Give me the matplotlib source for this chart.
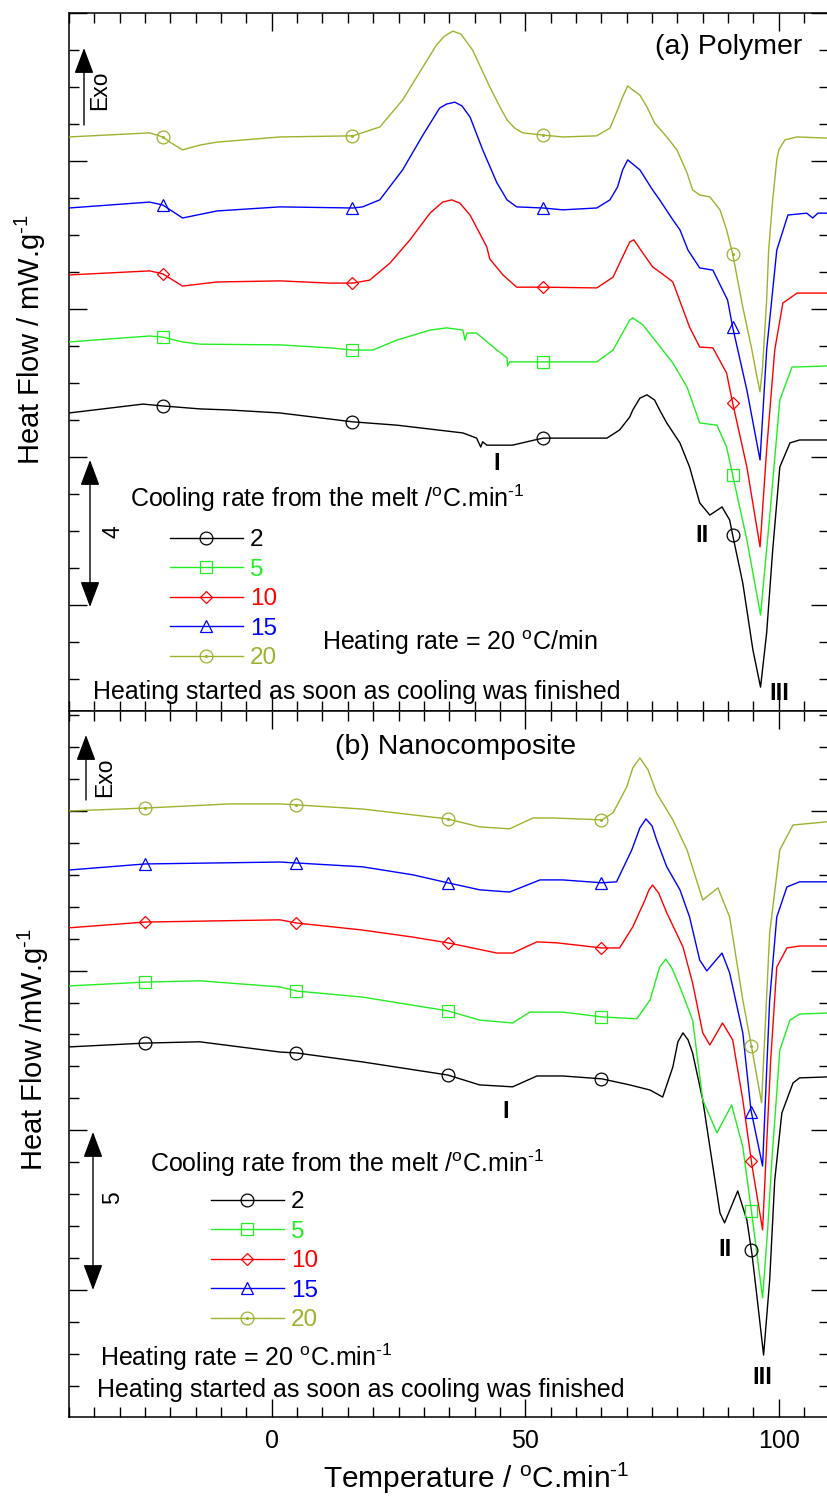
import numpy as np
import matplotlib
matplotlib.use('Agg')
import matplotlib.pyplot as plt
from matplotlib.ticker import MultipleLocator
from matplotlib.legend_handler import HandlerTuple

plt.rcParams['font.family'] = ['Liberation Sans', 'DejaVu Sans']
plt.rcParams['mathtext.fontset'] = 'custom'
plt.rcParams['mathtext.rm'] = 'Liberation Sans'
plt.rcParams['mathtext.it'] = 'Liberation Sans:italic'
plt.rcParams['mathtext.bf'] = 'Liberation Sans:bold'

# ---------------- data ----------------
rates = ['2', '5', '10', '15', '20']
colors = ['#000000', '#22ee22', '#ff0000', '#0000ff', '#9ab42e']
markers = ['o', 's', 'D', '^', 'o']
msizes = [9.2, 9.0, 6.3, 9.2, 9.2]

# (a) Polymer
T_a_2 = [-40.0, -25.4, -21.5, -14.2, -8.3, 1.6, 16.0, 24.7, 37.7, 40.4, 41.2, 41.6, 42.4, 47.5, 50.9, 53.5,
         57.4, 66.1, 68.6, 70.6, 71.2, 72.6, 74.0, 75.5, 76.5, 77.9, 80.5, 82.4, 84.4, 86.4, 88.8, 90.3, 90.9,
         92.9, 94.9, 96.4, 97.6, 98.8, 100.2, 102.2, 104.1, 109.5]
HF_a_2 = [9.19, 9.43, 9.38, 9.30, 9.27, 9.19, 8.95, 8.86, 8.65, 8.51, 8.27, 8.41, 8.32, 8.32, 8.43, 8.51,
          8.51, 8.51, 8.73, 9.08, 9.27, 9.59, 9.68, 9.54, 9.27, 8.92, 8.38, 7.73, 6.76, 6.43, 6.65, 6.30, 5.89,
          4.59, 2.78, 1.78, 3.24, 5.49, 7.73, 8.38, 8.46, 8.46]
T_a_5 = [-40.0, -24.1, -21.5, -17.6, -14.2, 1.6, 11.4, 16.0, 19.9, 24.7, 31.2, 34.5, 37.7, 38.1, 38.5, 40.4,
         44.4, 46.4, 46.5, 46.9, 53.5, 64.1, 67.3, 70.6, 71.2, 73.2, 75.1, 77.1, 79.1, 81.9, 84.4, 87.8, 89.7,
         90.9, 93.7, 96.4, 98.2, 100.2, 102.6, 109.5]
HF_a_5 = [11.11, 11.27, 11.24, 11.11, 11.05, 11.03, 10.95, 10.89, 10.89, 11.16, 11.43, 11.49, 11.43, 11.16,
          11.35, 11.35, 10.89, 10.68, 10.46, 10.57, 10.57, 10.57, 10.89, 11.70, 11.76, 11.57, 11.24, 10.89,
          10.54, 9.89, 8.92, 8.86, 8.27, 7.51, 5.76, 3.73, 6.38, 9.54, 10.43, 10.46]
T_a_10 = [-40.0, -24.1, -21.5, -17.6, -10.8, 1.6, 11.4, 16.0, 19.3, 23.3, 27.2, 31.2, 33.7, 35.5, 37.1, 39.1,
          42.4, 43.0, 45.6, 48.3, 53.5, 64.1, 67.3, 69.2, 70.6, 71.4, 73.2, 75.1, 77.9, 79.1, 82.4, 84.4, 87.0,
          89.7, 90.9, 93.7, 96.3, 97.6, 99.2, 100.8, 103.6, 109.5]
HF_a_10 = [12.92, 13.03, 12.95, 12.62, 12.73, 12.76, 12.70, 12.70, 12.78, 13.24, 13.86, 14.59, 14.89, 14.95,
           14.86, 14.54, 13.68, 13.35, 12.92, 12.59, 12.59, 12.57, 12.86, 13.41, 13.81, 13.87, 13.51, 13.14,
           12.86, 12.73, 11.51, 10.97, 10.95, 10.27, 9.46, 7.73, 5.57, 8.19, 10.89, 12.16, 12.43, 12.43]
T_a_15 = [-40.0, -24.1, -21.5, -17.6, -10.8, 1.6, 16.0, 17.9, 21.3, 25.8, 29.8, 33.1, 34.5, 36.1, 37.5, 39.1,
          41.6, 44.4, 46.4, 48.3, 53.5, 57.4, 64.1, 66.7, 68.2, 69.2, 70.2, 72.6, 75.1, 76.5, 79.1, 80.5, 82.1,
          84.4, 87.0, 89.9, 90.9, 93.7, 96.3, 97.6, 99.6, 101.8, 105.5, 106.7, 107.7, 109.5]
HF_a_15 = [14.73, 14.89, 14.81, 14.46, 14.65, 14.76, 14.73, 14.76, 14.95, 15.76, 16.70, 17.43, 17.54, 17.59,
           17.49, 17.19, 16.30, 15.41, 14.95, 14.76, 14.73, 14.68, 14.73, 14.95, 15.30, 15.76, 16.03, 15.76,
           15.22, 14.95, 14.41, 14.14, 13.59, 13.11, 13.05, 12.24, 11.51, 9.81, 7.92, 10.89, 13.59, 14.54,
           14.59, 14.46, 14.59, 14.59]
T_a_20 = [-40.0, -24.1, -21.5, -20.1, -17.6, -14.2, -10.8, 1.6, 16.0, 21.3, 25.8, 29.8, 32.5, 34.1, 35.7, 37.3,
          39.6, 43.0, 45.0, 46.4, 47.9, 49.5, 53.5, 57.4, 64.1, 66.7, 68.2, 69.2, 70.2, 71.2, 72.6, 74.0, 75.5,
          77.9, 79.9, 81.9, 83.0, 84.4, 86.4, 88.4, 89.7, 90.9, 92.9, 94.7, 95.7, 96.3, 96.8, 97.6, 98.0, 98.8,
          99.6, 100.0, 101.2, 103.6, 109.5]
HF_a_20 = [16.65, 16.76, 16.65, 16.51, 16.30, 16.43, 16.51, 16.65, 16.68, 16.92, 17.65, 18.54, 19.14, 19.38,
           19.51, 19.43, 19.0, 18.0, 17.46, 17.11, 16.89, 16.76, 16.70, 16.65, 16.68, 16.89, 17.38, 17.73,
           18.03, 17.92, 17.78, 17.46, 17.03, 16.65, 16.30, 15.68, 15.22, 15.08, 15.03, 14.68, 14.14, 13.49,
           12.05, 10.89, 10.16, 9.76, 10.43, 12.24, 13.59, 14.95, 16.03, 16.30, 16.57, 16.65, 16.62]

# (b) Nanocomposite
T_b_2 = [-40.0, -25.0, -14.2, 1.6, 4.9, 17.9, 34.7, 41.0, 47.5, 52.3, 57.4, 65.1, 70.6, 74.6, 77.1, 79.1,
         80.1, 81.1, 82.1, 83.0, 85.0, 86.4, 88.4, 89.3, 91.9, 93.7, 94.7, 95.7, 97.0, 98.2, 99.2, 100.6, 102.8,
         104.1, 109.5]
HF_b_2 = [12.61, 12.73, 12.77, 12.45, 12.42, 12.14, 11.73, 11.42, 11.36, 11.70, 11.70, 11.61, 11.42, 11.26,
          11.04, 11.98, 12.77, 13.05, 12.83, 12.42, 10.95, 9.48, 7.41, 7.10, 8.10, 7.19, 6.13, 4.78, 2.96, 5.31,
          8.44, 10.54, 11.48, 11.64, 11.67]
T_b_5 = [-40.0, -25.0, -14.2, 1.6, 4.9, 17.9, 34.7, 41.0, 47.5, 50.9, 57.4, 65.1, 72.0, 74.6, 76.5, 77.7,
         78.9, 80.5, 83.0, 85.0, 87.8, 90.7, 92.9, 94.7, 96.8, 97.8, 98.6, 100.2, 102.2, 104.1, 109.5]
HF_b_5 = [14.52, 14.64, 14.68, 14.49, 14.36, 14.17, 13.74, 13.45, 13.36, 13.70, 13.70, 13.55, 13.49, 14.08,
          15.11, 15.36, 15.08, 14.49, 13.45, 10.95, 9.92, 10.79, 9.48, 7.35, 4.75, 6.88, 8.98, 12.51, 13.45,
          13.64, 13.67]
T_b_10 = [-40.0, -25.0, 1.6, 4.9, 17.9, 27.8, 34.7, 44.4, 47.5, 52.3, 56.2, 65.1, 68.6, 71.2, 73.6, 74.4,
          75.1, 76.3, 77.9, 81.1, 83.0, 85.0, 86.4, 88.9, 90.9, 92.9, 94.7, 96.8, 98.4, 99.6, 101.6, 104.1, 109.5]
HF_b_10 = [16.34, 16.52, 16.59, 16.49, 16.27, 16.05, 15.87, 15.55, 15.55, 15.90, 15.87, 15.71, 15.71, 16.37,
           17.21, 17.53, 17.68, 17.43, 16.81, 15.74, 14.61, 13.05, 12.67, 13.36, 12.83, 10.95, 8.91, 6.88,
           12.20, 15.11, 15.71, 15.77, 15.77]
T_b_15 = [-40.0, -25.0, 1.6, 4.9, 17.9, 27.8, 34.7, 41.0, 46.9, 52.9, 57.4, 65.1, 68.0, 71.0, 72.6, 73.8,
          75.0, 75.9, 77.9, 80.5, 82.4, 84.4, 85.8, 88.8, 90.3, 92.9, 94.5, 96.8, 98.2, 99.6, 101.6, 104.1, 109.5]
HF_b_15 = [18.15, 18.34, 18.40, 18.37, 18.25, 18.00, 17.75, 17.53, 17.46, 17.84, 17.84, 17.75, 17.78, 18.78,
           19.47, 19.75, 19.53, 19.09, 18.25, 17.53, 16.68, 15.33, 14.99, 15.55, 14.93, 13.05, 10.64, 8.88,
           14.08, 16.68, 17.62, 17.78, 17.78]
T_b_20 = [-40.0, -25.0, -8.3, 1.6, 4.9, 17.9, 34.7, 41.0, 46.9, 51.5, 55.4, 65.1, 67.3, 70.0, 71.2, 72.6,
          74.2, 75.9, 79.1, 81.9, 85.0, 88.0, 90.3, 92.9, 94.7, 96.6, 98.2, 100.2, 102.8, 109.5]
HF_b_20 = [20.0, 20.09, 20.22, 20.22, 20.19, 20.06, 19.75, 19.50, 19.44, 19.78, 19.78, 19.72, 19.94, 20.75,
           21.35, 21.66, 21.29, 20.56, 19.72, 18.78, 17.21, 17.59, 16.68, 14.08, 12.55, 10.86, 16.18, 18.78,
           19.56, 19.66]

marker_T_a = [-21.5, 15.8, 53.5, 90.9]
marker_T_b = [-25.0, 4.8, 34.7, 64.9, 94.6]

series_a = [(T_a_2, HF_a_2), (T_a_5, HF_a_5), (T_a_10, HF_a_10), (T_a_15, HF_a_15), (T_a_20, HF_a_20)]
series_b = [(T_b_2, HF_b_2), (T_b_5, HF_b_5), (T_b_10, HF_b_10), (T_b_15, HF_b_15), (T_b_20, HF_b_20)]

# ---------------- figure ----------------
W, H = 827, 1497
fig = plt.figure(figsize=(W / 100, H / 100), dpi=100)


def fx(px):
    return px / W


def fy(py):
    return 1 - py / H


L, R = 69, 829.5
TOP_A, MID, BOT_B = 13, 711, 1417
ax_a = fig.add_axes([fx(L), fy(MID), (R - L) / W, (MID - TOP_A) / H])
ax_b = fig.add_axes([fx(L), fy(BOT_B), (R - L) / W, (BOT_B - MID) / H])

FS = 18


def draw_panel(ax, series, mT):
    handles = []
    for (T, Y), c, m, ms in zip(series, colors, markers, msizes):
        ax.plot(T, Y, color=c, lw=1.0, zorder=3)
        my = np.interp(mT, T, Y)
        ax.plot(mT, my, ls='none', marker=m, ms=ms, mfc='none', mec=c, mew=0.9, zorder=4)
        h = ax.plot([], [], color=c, lw=1.0, marker=m, ms=ms, mfc='none', mec=c, mew=0.9)[0]
        if c == colors[4]:
            ax.plot(mT, my, ls='none', marker='.', ms=2.5, color=c, zorder=5)
            hd = ax.plot([], [], ls='none', marker='.', ms=2.5, color=c)[0]
            handles.append((h, hd))
        else:
            handles.append(h)
    ax.set_xlim(-40, 110)
    ax.xaxis.set_major_locator(MultipleLocator(50))
    ax.xaxis.set_minor_locator(MultipleLocator(5))
    ax.yaxis.set_minor_locator(MultipleLocator(1))
    ax.tick_params(which='both', direction='in', top=True, right=True, width=1.0,
                   labelleft=False, labelsize=FS, pad=9)
    ax.tick_params(which='major', length=13)
    ax.tick_params(which='minor', length=7)
    for s in ax.spines.values():
        s.set_linewidth(1.1)
    return handles


h_a = draw_panel(ax_a, series_a, marker_T_a)
ax_a.set_ylim(1.135, 20.0)
ax_a.yaxis.set_major_locator(MultipleLocator(4))
ax_a.tick_params(labelbottom=False)

h_b = draw_panel(ax_b, series_b, marker_T_b)
ax_b.set_ylim(1.02, 23.13)
ax_b.yaxis.set_major_locator(MultipleLocator(5))


def ftext(px, py, s, **kw):
    kw.setdefault('fontsize', FS)
    kw.setdefault('va', 'center')
    return fig.text(fx(px), fy(py), s, **kw)


def farrow(x, y0, y1, style):
    fig.add_artist(matplotlib.patches.FancyArrowPatch(
        (fx(x), fy(y0)), (fx(x), fy(y1)), transform=fig.transFigure,
        arrowstyle=style, mutation_scale=20, lw=1.0, color='k', shrinkA=0, shrinkB=0))


deg = r'$^{\text{o}}$'
inv = r'$^{\text{-1}}$'

# panel a annotations
ftext(655, 47, '(a) Polymer', fontsize=20.5, ha='left')
farrow(84, 125, 48, '-|>,head_length=0.8,head_width=0.3')
ftext(100, 90, 'Exo', fontsize=16.5, rotation=90, ha='center')
farrow(90, 460, 607, '<|-|>,head_length=0.8,head_width=0.3')
ftext(113, 532, '4', fontsize=16.5, rotation=90, ha='center')
ftext(130, 498, 'Cooling rate from the melt /' + deg + 'C.min' + inv, ha='left')
ftext(322, 643, 'Heating rate = 20 ' + deg + 'C/min', ha='left')
ftext(93, 692, 'Heating started as soon as cooling was finished', ha='left')
ftext(497, 463, 'I', fontsize=17, fontweight='bold', ha='center')
ftext(702, 536, 'II', fontsize=17, fontweight='bold', ha='center')
ftext(779, 694, 'III', fontsize=17, fontweight='bold', ha='center')

# panel b annotations
ftext(335, 747, '(b) Nanocomposite', fontsize=20.5, ha='left')
farrow(86, 800, 735, '-|>,head_length=0.8,head_width=0.3')
ftext(105, 777, 'Exo', fontsize=16.5, rotation=90, ha='center')
farrow(93, 1132, 1290, '<|-|>,head_length=0.8,head_width=0.3')
ftext(113, 1198, '5', fontsize=16.5, rotation=90, ha='center')
ftext(150, 1163, 'Cooling rate from the melt /' + deg + 'C.min' + inv, ha='left')
ftext(100, 1357, 'Heating rate = 20 ' + deg + 'C.min' + inv, ha='left')
ftext(97, 1390, 'Heating started as soon as cooling was finished', ha='left')
ftext(506, 1111, 'I', fontsize=17, fontweight='bold', ha='center')
ftext(725, 1249, 'II', fontsize=17, fontweight='bold', ha='center')
ftext(762, 1378, 'III', fontsize=17, fontweight='bold', ha='center')

# legends
leg_kw = dict(loc='upper left', bbox_transform=fig.transFigure, frameon=False, fontsize=17.5,
              handlelength=3.0, handletextpad=0.3, labelspacing=0.31, borderpad=0, borderaxespad=0,
              labelcolor='linecolor', handler_map={tuple: HandlerTuple(ndivide=1, pad=0)})
la = ax_a.legend(h_a, rates, bbox_to_anchor=(fx(170), fy(529)), **leg_kw)
for t, c in zip(la.get_texts(), colors):
    t.set_color(c)
lb = ax_b.legend(h_b, rates, bbox_to_anchor=(fx(211), fy(1191)), **leg_kw)
for t, c in zip(lb.get_texts(), colors):
    t.set_color(c)

# axis labels
ftext(30, 340, 'Heat Flow / mW.g' + inv, fontsize=21, rotation=90, ha='center')
ftext(33, 1050, 'Heat Flow /mW.g' + inv, fontsize=21, rotation=90, ha='center')
ftext(476, 1478, 'Temperature / ' + deg + 'C.min' + inv, fontsize=21.5, ha='center')

fig.savefig('out.png', dpi=100)
